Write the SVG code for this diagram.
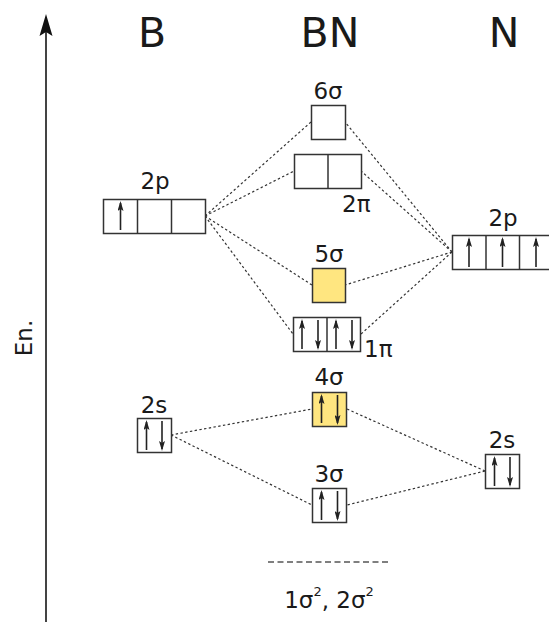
<svg xmlns="http://www.w3.org/2000/svg" width="549" height="623" viewBox="0 0 549 623">
  <style>
    .title { font-family: "DejaVu Sans", sans-serif; font-size: 41px; fill: #1a1a1a; text-anchor: middle; }
    .lbl { font-family: "DejaVu Sans", sans-serif; font-size: 23px; fill: #1a1a1a; text-anchor: middle; }
    .lbl-l { font-family: "DejaVu Sans", sans-serif; font-size: 23px; fill: #1a1a1a; }
    .box { fill: #ffffff; stroke: #333333; stroke-width: 1.5; }
    .box.occ { fill: #ffe680; }
    .div { stroke: #333333; stroke-width: 1.5; }
    .spin { stroke: #222222; stroke-width: 1.6; fill: none; marker-end: url(#head); }
    .link { stroke: #333333; stroke-width: 1.2; stroke-dasharray: 2.4 2.4; fill: none; }
    .base { stroke: #555555; stroke-width: 1.5; stroke-dasharray: 6 3.5; fill: none; }
  </style>
  <defs>
    <marker id="head" viewBox="0 0 10 6" refX="8" refY="3" markerWidth="10" markerHeight="6" markerUnits="userSpaceOnUse" orient="auto">
      <path d="M0,0 L10,3 L0,6 L2,3 Z" fill="#222222"/>
    </marker>
  </defs>

  <rect width="549" height="623" fill="#ffffff"/>

  <!-- energy axis -->
  <g id="axis">
    <line x1="46" y1="622" x2="46" y2="30" stroke="#444444" stroke-width="2"/>
    <path d="M46,14 L52.5,36 L46,32 L39.5,36 Z" fill="#111111"/>
    <text class="lbl" transform="translate(32,338) rotate(-90)">En.</text>
  </g>

  <!-- column titles -->
  <g id="titles">
    <text class="title" x="152" y="47">B</text>
    <text class="title" x="330" y="47">BN</text>
    <text class="title" x="504" y="47">N</text>
  </g>

  <!-- connectors -->
  <g id="connectors">
    <path class="link" d="M205,216 L311,122"/>
    <path class="link" d="M205,216 L294,171"/>
    <path class="link" d="M205,216 L312,285"/>
    <path class="link" d="M205,216 L293,334"/>
    <path class="link" d="M452,252 L345,122"/>
    <path class="link" d="M452,252 L361,171"/>
    <path class="link" d="M452,252 L345,285"/>
    <path class="link" d="M452,252 L361,334"/>
    <path class="link" d="M171,435 L312,409"/>
    <path class="link" d="M171,435 L312,505"/>
    <path class="link" d="M485,471 L347,409"/>
    <path class="link" d="M485,471 L347,505"/>
    <path class="base" d="M268,562 L390,562"/>
  </g>

  <!-- B 2p -->
  <g id="b-2p">
    <text class="lbl" x="155" y="189">2p</text>
    <rect class="box" x="103.5" y="199.5" width="102" height="34"/>
    <line class="div" x1="137.5" y1="199.5" x2="137.5" y2="233.5"/>
    <line class="div" x1="171.5" y1="199.5" x2="171.5" y2="233.5"/>
    <line class="spin" x1="120.5" y1="230" x2="120.5" y2="203"/>
  </g>

  <!-- B 2s -->
  <g id="b-2s">
    <text class="lbl" x="154" y="413">2s</text>
    <rect class="box" x="137.5" y="418.5" width="34" height="34"/>
    <line class="spin" x1="146.5" y1="450" x2="146.5" y2="422"/>
    <line class="spin" x1="162" y1="421" x2="162" y2="449"/>
  </g>

  <!-- BN 6σ -->
  <g id="bn-6sigma">
    <text class="lbl" x="328" y="99">6σ</text>
    <rect class="box" x="311.5" y="105.5" width="34" height="34"/>
  </g>

  <!-- BN 2π -->
  <g id="bn-2pi">
    <rect class="box" x="294.5" y="154.5" width="67" height="34"/>
    <line class="div" x1="328" y1="154.5" x2="328" y2="188.5"/>
    <text class="lbl-l" x="342" y="212">2π</text>
  </g>

  <!-- BN 5σ -->
  <g id="bn-5sigma">
    <text class="lbl" x="329" y="262">5σ</text>
    <rect class="box occ" x="312.5" y="268.5" width="33" height="34"/>
  </g>

  <!-- BN 1π -->
  <g id="bn-1pi">
    <rect class="box" x="293.5" y="317.5" width="67" height="34"/>
    <line class="div" x1="327" y1="317.5" x2="327" y2="351.5"/>
    <line class="spin" x1="302" y1="349" x2="302" y2="321"/>
    <line class="spin" x1="318" y1="320" x2="318" y2="348"/>
    <line class="spin" x1="336" y1="349" x2="336" y2="321"/>
    <line class="spin" x1="352" y1="320" x2="352" y2="348"/>
    <text class="lbl-l" x="364" y="357">1π</text>
  </g>

  <!-- BN 4σ -->
  <g id="bn-4sigma">
    <text class="lbl" x="329" y="385">4σ</text>
    <rect class="box occ" x="312.5" y="392.5" width="34" height="34"/>
    <line class="spin" x1="321.5" y1="423" x2="321.5" y2="396"/>
    <line class="spin" x1="337.5" y1="395" x2="337.5" y2="423"/>
  </g>

  <!-- BN 3σ -->
  <g id="bn-3sigma">
    <text class="lbl" x="329" y="482">3σ</text>
    <rect class="box" x="312.5" y="488.5" width="34" height="34"/>
    <line class="spin" x1="321.5" y1="520" x2="321.5" y2="492"/>
    <line class="spin" x1="337.5" y1="491" x2="337.5" y2="519"/>
  </g>

  <!-- BN core orbitals -->
  <g id="bn-core">
    <text class="lbl" x="329" y="608">1σ<tspan dy="-12" font-size="13">2</tspan><tspan dy="12">, 2σ</tspan><tspan dy="-12" font-size="13">2</tspan></text>
  </g>

  <!-- N 2p -->
  <g id="n-2p">
    <text class="lbl" x="503" y="226">2p</text>
    <rect class="box" x="452.5" y="235.5" width="101" height="34"/>
    <line class="div" x1="486" y1="235.5" x2="486" y2="269.5"/>
    <line class="div" x1="519.5" y1="235.5" x2="519.5" y2="269.5"/>
    <line class="spin" x1="469" y1="267" x2="469" y2="239"/>
    <line class="spin" x1="502.5" y1="267" x2="502.5" y2="239"/>
    <line class="spin" x1="536" y1="267" x2="536" y2="239"/>
  </g>

  <!-- N 2s -->
  <g id="n-2s">
    <text class="lbl" x="502" y="448">2s</text>
    <rect class="box" x="485.5" y="454.5" width="34" height="34"/>
    <line class="spin" x1="494.5" y1="486" x2="494.5" y2="458"/>
    <line class="spin" x1="510" y1="457" x2="510" y2="485"/>
  </g>
</svg>
